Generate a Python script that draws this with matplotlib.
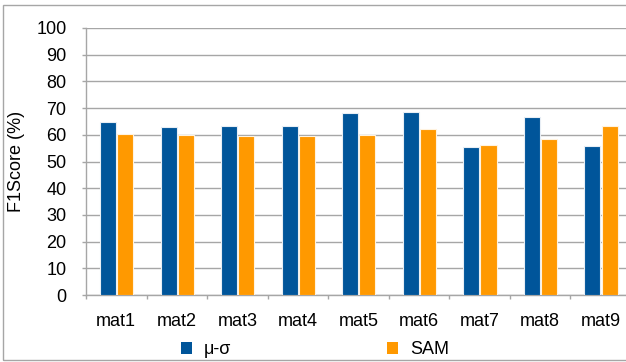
import numpy as np
import matplotlib
matplotlib.use("Agg")
import matplotlib.pyplot as plt
from matplotlib.patches import Rectangle, Patch

plt.rcParams['font.family'] = ['Liberation Sans', 'DejaVu Sans']

categories = ["mat1", "mat2", "mat3", "mat4", "mat5", "mat6", "mat7", "mat8", "mat9"]
mu_sigma = [64.8, 62.9, 63.3, 63.3, 68.0, 68.4, 55.3, 66.8, 55.7]
sam = [60.3, 59.9, 59.6, 59.6, 59.9, 62.2, 56.0, 58.4, 63.3]
series_names = ["\u03bc-\u03c3", "SAM"]
yticks = [0, 10, 20, 30, 40, 50, 60, 70, 80, 90, 100]

blue = "#00559a"
orange = "#ff9900"
grid_gray = "#a6a6a6"
fs = 13

W, H = 626, 362
fig = plt.figure(figsize=(W / 100, H / 100), dpi=100)

# plot area in pixel terms -> figure fractions
left, top, bottom, right = 86, 28, 295, 631
ax = fig.add_axes([left / W, 1 - bottom / H, (right - left) / W, (bottom - top) / H])

x = np.arange(len(categories)) + 0.5
bw = 0.265
ax.bar(x - 0.137, mu_sigma, width=bw, color=blue, edgecolor="#e8eef5", linewidth=0.8, zorder=3)
ax.bar(x + 0.147, sam, width=bw, color=orange, edgecolor="#fff3e0", linewidth=0.8, zorder=3)

ax.set_xlim(0, len(categories))
ax.set_ylim(0, 100)
ax.set_yticks(yticks)
ax.yaxis.grid(True, color=grid_gray, linewidth=1.0, zorder=0)
ax.set_axisbelow(True)

ax.set_xticks(np.arange(len(categories) + 1))
ax.set_xticklabels([])
ax.set_xticks(x, labels=categories, minor=True)
ax.tick_params(axis='x', which='major', direction='out', length=3, color=grid_gray, width=1)
ax.tick_params(axis='x', which='minor', length=0, pad=13, labelsize=fs)
ax.tick_params(axis='y', direction='out', length=3, color=grid_gray, width=1, pad=11, labelsize=fs)

for s in ["top", "right"]:
    ax.spines[s].set_visible(False)
for s in ["left", "bottom"]:
    ax.spines[s].set_color(grid_gray)
    ax.spines[s].set_linewidth(1.0)

ax.set_ylabel("F1Score (%)", fontsize=fs)
ax.yaxis.set_label_coords(-(86 - 25) / (right - left), 0.5)

handles = [Patch(facecolor=blue, edgecolor="none"), Patch(facecolor=orange, edgecolor="none")]
fig.legend(handles, series_names, loc='center', bbox_to_anchor=(315 / W, 1 - 350 / H),
           ncol=2, frameon=False, fontsize=fs, handlelength=0.62, handleheight=0.62,
           handletextpad=0.67, columnspacing=8.6, borderaxespad=0)

# outer frame around the chart
fig.patches.append(Rectangle((3 / W, 2 / H), 1.2, 1 - 7 / H, transform=fig.transFigure,
                             fill=False, edgecolor=grid_gray, linewidth=1.0))

fig.savefig("out.png", dpi=100)
